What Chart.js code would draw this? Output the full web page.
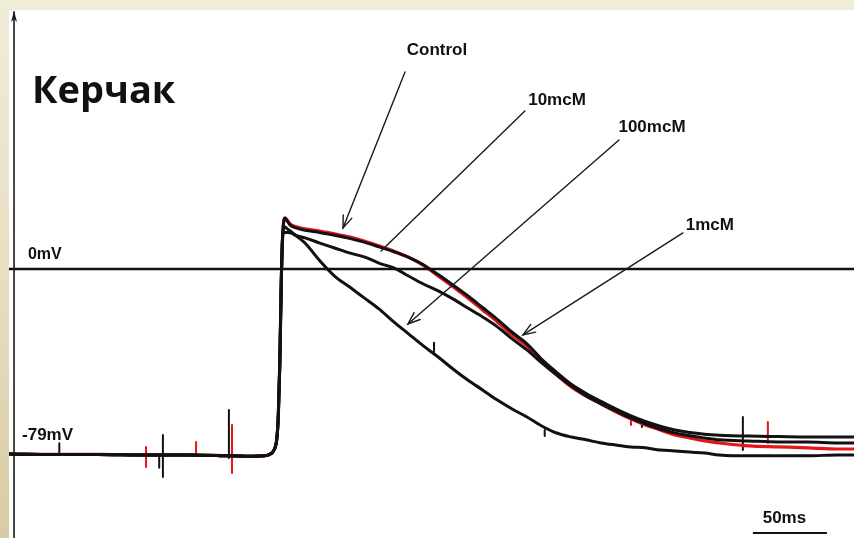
<!DOCTYPE html>
<html><head><meta charset="utf-8">
<script src="https://cdn.jsdelivr.net/npm/chart.js@4"></script>
<style>
html,body{margin:0;padding:0;}
body{width:854px;height:538px;overflow:hidden;position:relative;background:linear-gradient(to bottom,#F1EBDA 0%,#E8DEC2 50%,#D8CBA4 100%);}
#panel{position:absolute;left:9px;top:10px;width:845px;height:528px;background:#fff;}
#c{position:absolute;left:9px;top:10px;}
</style></head>
<body><div id="panel"></div><canvas id="c" width="845" height="528"></canvas>
<script>
// ---- data (time in ms, membrane potential in mV) ----
const restT = [0, 30, 60, 90, 120, 150, 165, 172, 176, 179, 181, 182, 183, 184, 185];
const restV = [-78.6, -78.8, -78.8, -79.0, -79.0, -79.4, -79.6, -79.4, -78.8, -77.0, -72.0, -62.0, -40.0, -5.0, 15.0];
const apT = [186.5, 188, 190, 195, 200, 210, 220, 230, 240, 250, 260, 270, 280, 290, 300, 310, 320, 330, 340, 350,
             360, 370, 380, 390, 400, 410, 420, 430, 440, 450, 460, 470, 480, 500, 520, 540, 560, 571];
const controlV = [21.7, 20.8, 19.1, 17.8, 17.0, 16.1, 14.9, 13.6, 11.9, 9.8, 7.6, 5.0, 1.5, -3.0, -7.6, -12.3, -17.4, -22.5, -28.0, -32.7,
                  -39.5, -45.0, -50.1, -54.0, -57.3, -60.7, -63.7, -66.3, -68.4, -70.5, -71.8, -73.1, -73.9, -75.2, -75.6, -76.0, -76.5, -76.5];
const mcM1V = [21.5, 20.4, 18.6, 17.2, 16.4, 15.5, 14.3, 13.0, 11.4, 9.4, 7.3, 4.9, 1.8, -2.4, -6.8, -11.4, -16.4, -21.4, -26.9, -31.8,
               -38.4, -43.9, -49.0, -52.9, -56.2, -59.4, -62.3, -64.8, -66.8, -68.4, -69.5, -70.2, -70.6, -71.0, -71.2, -71.4, -71.4, -71.4];
const mcM10V = [15.5, 15.5, 15.3, 14.0, 13.2, 11.0, 8.9, 6.8, 5.1, 2.5, 0.4, -3.0, -6.4, -9.3, -12.7, -16.6, -20.4, -24.6, -29.7, -34.4,
                -39.9, -45.0, -49.7, -54.0, -57.3, -60.3, -63.3, -65.8, -68.0, -69.7, -70.9, -71.8, -72.6, -73.1, -73.5, -73.5, -73.9, -73.9];
const mcM100V = [17.8, 17.0, 16.1, 13.6, 11.0, 3.5, -3.0, -7.6, -12.3, -17.0, -22.5, -27.6, -32.7, -37.4, -42.5, -47.2, -51.4, -55.7, -59.5, -62.9,
                 -66.7, -69.7, -71.4, -72.6, -73.9, -74.8, -75.6, -76.0, -76.9, -77.3, -77.8, -78.2, -79.0, -79.4, -79.4, -79.4, -79.0, -79.0];
// stimulus / noise artefacts: time, top, bottom, trace
const artT = [34, 92.6, 101.5, 104, 126.4, 148.6, 150.7, 287.2, 362, 420.3, 427.7, 495.9, 512.8];
const artHi = [-74.0, -75.6, -79.0, -70.5, -73.5, -59.9, -66.3, -31.4, -68.4, -63.3, -64.1, -62.9, -65.0];
const artLo = [-79.0, -84.1, -84.5, -88.4, -79.0, -80.3, -86.7, -35.3, -71.0, -66.3, -67.1, -76.9, -73.9];
const artIsControl = [false, true, false, false, true, false, true, false, false, true, false, false, true];
const zeroT = [0, 571];
const zeroV = [0, 0];
const scaleBarT = [502.7, 552.7];
const scaleBarV = [-112.2, -112.2];

// ---- annotation anchors (data units) ----
const annText = ['Control', '10mcM', '100mcM', '1mcM'];
const annTextT = [289.2, 370.3, 434.5, 473.6];
const annTextV = [93.0, 71.8, 60.3, 18.7];
const annFromT = [267.6, 348.6, 412.2, 455.4];
const annFromV = [83.7, 67.1, 54.8, 15.3];
const annToT = [225.7, 251.4, 269.6, 347.3];
const annToV = [17.4, 7.6, -23.4, -28.0];
const annHead = [true, false, true, true];

const RED = '#E5161B', BLACK = '#111111';
const pts = (ts, vs) => ts.map((t, i) => ({x: t, y: vs[i]}));
const trace = vals => pts(restT, restV).concat(pts(apT, vals));

const lineDs = (data, color, w) => ({data, borderColor: color, borderWidth: w, pointRadius: 0, fill: false,
  cubicInterpolationMode: 'monotone', borderJoinStyle: 'round', borderCapStyle: 'round'});

const datasets = [
  Object.assign(lineDs(pts(zeroT, zeroV), BLACK, 2.5), {cubicInterpolationMode: 'default', tension: 0}),
  lineDs(trace(mcM100V), BLACK, 3),
  lineDs(trace(mcM10V), BLACK, 3),
  lineDs(trace(mcM1V), BLACK, 3),
  lineDs(trace(controlV), RED, 3.2),
];
artT.forEach((t, i) => {
  datasets.push(Object.assign(lineDs([{x: t, y: artHi[i]}, {x: t, y: artLo[i]}], artIsControl[i] ? RED : BLACK, 2),
    {cubicInterpolationMode: 'default', tension: 0}));
});
datasets.push(Object.assign(lineDs(pts(scaleBarT, scaleBarV), BLACK, 2), {cubicInterpolationMode: 'default', tension: 0, borderCapStyle: 'butt'}));

const axisT = 3.4;
const decor = {
  id: 'decor',
  afterDatasetsDraw(chart) {
    const {ctx, scales: {x, y}} = chart;
    ctx.save();
    // vertical axis with arrow
    const ax = x.getPixelForValue(axisT);
    ctx.strokeStyle = '#1a1a1a'; ctx.lineWidth = 1.6;
    ctx.beginPath(); ctx.moveTo(ax, y.getPixelForValue(109.5)); ctx.lineTo(ax, y.getPixelForValue(-114.3)); ctx.stroke();
    const tipY = y.getPixelForValue(109.6);
    ctx.fillStyle = '#1a1a1a';
    ctx.beginPath(); ctx.moveTo(ax, tipY); ctx.lineTo(ax - 3, tipY + 11); ctx.lineTo(ax, tipY + 8); ctx.lineTo(ax + 3, tipY + 11); ctx.closePath(); ctx.fill();

    // annotation arrows
    ctx.strokeStyle = '#1a1a1a'; ctx.lineWidth = 1.4; ctx.lineCap = 'round';
    annText.forEach((s, i) => {
      const x1 = x.getPixelForValue(annFromT[i]), y1 = y.getPixelForValue(annFromV[i]);
      const x2 = x.getPixelForValue(annToT[i]), y2 = y.getPixelForValue(annToV[i]);
      ctx.beginPath(); ctx.moveTo(x1, y1); ctx.lineTo(x2, y2); ctx.stroke();
      if (annHead[i]) {
        const a = Math.atan2(y2 - y1, x2 - x1), L = 13, h = 0.36;
        ctx.beginPath();
        ctx.moveTo(x2 - L * Math.cos(a - h), y2 - L * Math.sin(a - h));
        ctx.lineTo(x2, y2);
        ctx.lineTo(x2 - L * Math.cos(a + h), y2 - L * Math.sin(a + h));
        ctx.stroke();
      }
    });
    // labels
    ctx.fillStyle = '#111';
    ctx.font = 'bold 17px "Liberation Sans", Arial, sans-serif';
    ctx.textAlign = 'center'; ctx.textBaseline = 'middle';
    annText.forEach((s, i) => ctx.fillText(s, x.getPixelForValue(annTextT[i]), y.getPixelForValue(annTextV[i])));
    ctx.fillText('50ms', x.getPixelForValue(524), y.getPixelForValue(-105.8));
    ctx.textAlign = 'left';
    ctx.font = 'bold 16px "Liberation Sans", Arial, sans-serif';
    ctx.fillText('0mV', x.getPixelForValue(12.8), y.getPixelForValue(5.9));
    ctx.font = 'bold 17px "Liberation Sans", Arial, sans-serif';
    ctx.fillText('-79mV', x.getPixelForValue(8.8), y.getPixelForValue(-70.5));
    ctx.textBaseline = 'alphabetic';
    ctx.font = 'bold 38px "Open Sans", "Noto Sans", sans-serif';
    ctx.fillText('Керчак', x.getPixelForValue(15.5), y.getPixelForValue(70.5));
    ctx.restore();
  }
};

new Chart(document.getElementById('c'), {
  type: 'line',
  data: {datasets},
  options: {
    responsive: false, animation: false, devicePixelRatio: 1,
    layout: {padding: 0},
    plugins: {legend: {display: false}, tooltip: {enabled: false}},
    scales: {
      x: {type: 'linear', min: 0, max: 571, display: false},
      y: {type: 'linear', min: -114.3, max: 110, display: false}
    }
  },
  plugins: [decor]
});
</script>
</body></html>
